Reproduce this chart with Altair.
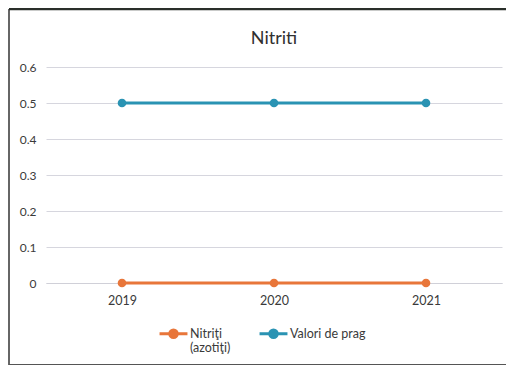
import altair as alt
import pandas as pd

years = ["2019", "2020", "2021"]
nitriti = [0.0, 0.0, 0.0]
prag = [0.5, 0.5, 0.5]
series_names = ["Nitriţi (azotiţi)", "Valori de prag"]
colors = ["#E8763A", "#2A93B3"]
y_ticks = [0, 0.1, 0.2, 0.3, 0.4, 0.5, 0.6]
chart_title = "Nitriti"

rows = []
for y, v in zip(years, nitriti):
    rows.append({"An": y, "Valoare": v, "Serie": series_names[0]})
for y, v in zip(years, prag):
    rows.append({"An": y, "Valoare": v, "Serie": series_names[1]})
df = pd.DataFrame(rows)

FONT = "Lato"
TXT = "#3A3A3A"

base = alt.Chart(df)

lines = base.mark_line(
    strokeWidth=3,
    point=alt.OverlayMarkDef(filled=True, size=75),
).encode(
    x=alt.X("An:O", scale=alt.Scale(type="point", padding=0.5),
            axis=alt.Axis(title=None, labelAngle=0, ticks=False, domain=True,
                          domainColor="#D0D0D8", labelPadding=11,
                          labelFontSize=12.5, labelColor=TXT, labelFont=FONT)),
    y=alt.Y("Valoare:Q", scale=alt.Scale(domain=[0, 0.6], nice=False),
            axis=alt.Axis(title=None, values=y_ticks, format=".1~f", ticks=False,
                          domain=False, grid=True, gridColor="#D6D6DE",
                          labelPadding=10, labelFontSize=12, labelColor=TXT,
                          labelFont=FONT)),
    color=alt.Color("Serie:N", scale=alt.Scale(domain=series_names, range=colors),
                    legend=alt.Legend(title=None, orient="none", legendX=112, legendY=251,
                                      direction="horizontal", columns=2,
                                      symbolType="M-1,0H1M0.27,0A0.27,0.27 0 1,1 -0.27,0A0.27,0.27 0 1,1 0.27,0Z",
                                      symbolSize=780, symbolStrokeWidth=3,
                                      labelFontSize=12.5, labelColor=TXT, labelFont=FONT,
                                      labelExpr="datum.label == 'Nitriţi (azotiţi)' ? ['Nitriţi', '(azotiţi)'] : [datum.label, ' ']",
                                      columnPadding=22, labelOffset=1)),
)

one = alt.Data(values=[{"t": chart_title}])
title_mark = alt.Chart(one).mark_text(
    font=FONT, fontSize=18, color="#303030", align="center", baseline="middle"
).encode(text="t:N", x=alt.value(228), y=alt.value(-28))
frame_left = alt.Chart(one).mark_rule(color="#333333", strokeWidth=1.5).encode(
    x=alt.value(-37), y=alt.value(-58), y2=alt.value(298))
frame_top = alt.Chart(one).mark_rule(color="#2A2F2A", strokeWidth=2.5).encode(
    x=alt.value(-37), x2=alt.value(470), y=alt.value(-58))
frame_bottom = alt.Chart(one).mark_rule(color="#555555", strokeWidth=2).encode(
    x=alt.value(-37), x2=alt.value(470), y=alt.value(298))

chart = alt.layer(lines, title_mark, frame_left, frame_top, frame_bottom).properties(
    width=456, height=216,
    background="white",
    autosize=alt.AutoSizeParams(type="none"),
    padding={"left": 38, "top": 59, "right": 4, "bottom": 82},
).configure_view(strokeWidth=0, stroke="transparent")

chart.save("out.html", embed_options={"renderer": "svg", "actions": False})
